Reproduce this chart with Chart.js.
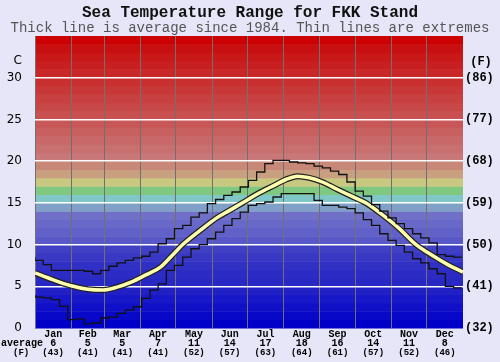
<!DOCTYPE html>
<html>
<head>
<meta charset="utf-8">
<script src="https://cdn.jsdelivr.net/npm/chart.js@4.4.1/dist/chart.umd.min.js"></script>
<style>
  html, body { margin: 0; padding: 0; background: #e6e6f8; }
  #wrap { width: 500px; height: 362px; }
</style>
</head>
<body>
<div id="wrap"><canvas id="sea-chart" width="500" height="362"></canvas></div>
<script>
// month labels and monthly averages (C and F) shown under the plot
const monthNames = ["Jan", "Feb", "Mar", "Apr", "May", "Jun", "Jul", "Aug", "Sep", "Oct", "Nov", "Dec"];
const monthDays = [31, 28, 31, 30, 31, 30, 31, 31, 30, 31, 30, 31];
const avgC = [6, 5, 5, 7, 11, 14, 17, 18, 16, 14, 11, 8];
const avgF = [43, 41, 41, 41, 52, 57, 63, 64, 61, 57, 52, 46];

// extremes, read once a week (day of year)
const stepDays = [0, 7, 14, 21, 28, 35, 42, 49, 56, 63, 70, 77, 84, 91, 98, 105, 112, 119, 126, 133,
  140, 147, 154, 161, 168, 175, 182, 189, 196, 203, 210, 217, 224, 231, 238, 245, 252, 259, 266, 273,
  280, 287, 294, 301, 308, 315, 322, 329, 336, 343, 350, 357, 364];
const maxTemps = [8.5, 8.1, 7.6, 6.9, 6.9, 6.9, 6.9, 6.8, 6.5, 6.9, 7.4, 7.8, 8.1, 8.4, 8.6, 9.1, 10.1, 10.7, 11.9, 12.3,
  13.3, 13.8, 14.9, 15.4, 15.9, 16.3, 16.9, 17.7, 18.7, 19.7, 20.1, 20.1, 19.9, 19.8, 19.7, 19.4, 19.2, 18.8, 18.4, 17.5,
  16.4, 15.8, 14.8, 14.0, 13.2, 12.5, 11.9, 11.3, 10.8, 10.2, 8.8, 8.6, 8.5];
const minTemps = [3.95, 3.7, 3.6, 3.4, 2.6, 1.0, 1.1, 0.5, 0.6, 1.2, 1.3, 1.75, 2.15, 2.55, 3.55, 4.55, 5.3, 6.9, 7.5, 8.5,
  9.5, 10.0, 10.7, 11.5, 12.3, 13.1, 13.9, 14.7, 14.9, 15.1, 15.7, 16.1, 16.1, 16.1, 16.1, 15.3, 14.7, 14.7, 14.5, 14.3,
  13.8, 13.0, 12.3, 11.3, 10.5, 9.9, 9.1, 8.3, 7.8, 7.1, 6.5, 5.0, 4.8];

// long-term average curve
const avgDays = [0, 15, 30, 45, 58, 70, 82, 95, 107, 119, 126, 140, 155, 166, 177, 190, 204, 214, 224, 234,
  245, 258, 270, 282, 295, 310, 325, 340, 352, 365];
const avgTemps = [6.6, 5.8, 5.1, 4.65, 4.55, 4.9, 5.5, 6.4, 7.3, 9.0, 10.0, 11.6, 13.2, 14.1, 15.0, 16.1, 17.1, 17.8, 18.2, 18.0,
  17.5, 16.6, 15.8, 15.0, 13.7, 12.0, 10.0, 8.6, 7.6, 6.7];

// one colour per degree band, 0-1 up to 34-35
const bandColors = ["#0000c8", "#0808c8", "#1010c8", "#1818c8", "#2020c4", "#2828c4", "#2c2cc4", "#3030c4", "#3838c4", "#4040c4",
  "#5858c8", "#6060c8", "#6868c8", "#7070c8", "#80a0c8", "#80c8c8", "#80c880", "#c8c880", "#c8a080", "#c88878",
  "#c87878", "#c87070", "#c86868", "#c86060", "#c85858", "#c85050", "#c84848", "#c84040", "#c83838", "#c83030",
  "#c82828", "#c82020", "#c81818", "#c81010", "#cc0000"];

const monthStarts = [];
const monthMids = [];
let d = 0;
monthDays.forEach(n => { monthStarts.push(d); monthMids.push(d + n / 2); d += n; });

const toPoints = (xs, ys) => xs.map((x, i) => ({ x: x, y: ys[i] }));

// ✅ colour bands behind the plot
const bandsPlugin = {
    id: "bands",
    beforeDraw(chart) {
        const { ctx, chartArea, scales } = chart;
        ctx.save();
        bandColors.forEach((c, i) => {
            const top = scales.y.getPixelForValue(i + 1);
            const bot = scales.y.getPixelForValue(i);
            ctx.fillStyle = c;
            ctx.fillRect(chartArea.left, top, chartArea.right - chartArea.left, bot - top + 0.5);
        });
        ctx.restore();
    }
};

// ✅ text rows under the plot and unit labels
const labelsPlugin = {
    id: "labels",
    afterDraw(chart) {
        const { ctx, scales } = chart;
        const x = scales.x;
        ctx.save();
        ctx.fillStyle = "#000";
        ctx.textBaseline = "middle";
        ctx.textAlign = "center";
        monthMids.forEach((m, i) => {
            const px = x.getPixelForValue(m);
            ctx.font = "bold 10px 'Liberation Mono'";
            ctx.fillText(monthNames[i], px, 334);
            ctx.fillText(String(avgC[i]), px, 343);
            ctx.font = "bold 9px 'Liberation Mono'";
            ctx.fillText("(" + avgF[i] + ")", px, 352.5);
        });
        ctx.textAlign = "left";
        ctx.font = "bold 10px 'Liberation Mono'";
        ctx.fillText("average", 1, 343);
        ctx.font = "bold 9px 'Liberation Mono'";
        ctx.fillText("(F)", 13, 352.5);
        ctx.textAlign = "right";
        ctx.font = "12px 'DejaVu Sans'";
        ctx.fillText("C", 22, 61);
        ctx.textAlign = "center";
        ctx.font = "bold 12px 'Liberation Mono'";
        ctx.fillText("(F)", 481, 62);
        ctx.restore();
    }
};

const seaChart = new Chart(document.getElementById("sea-chart"), {
    type: "line",
    data: {
        datasets: [
            {
                label: "Max",
                data: toPoints(stepDays, maxTemps),
                stepped: "after",
                borderColor: "#111",
                borderWidth: 1.3,
                pointRadius: 0,
                fill: false
            },
            {
                label: "Min",
                data: toPoints(stepDays, minTemps),
                stepped: "after",
                borderColor: "#111",
                borderWidth: 1.3,
                pointRadius: 0,
                fill: false
            },
            {
                label: "Average",
                data: toPoints(avgDays, avgTemps),
                cubicInterpolationMode: "monotone",
                borderColor: "#ffffb0",
                borderWidth: 3.5,
                pointRadius: 0,
                fill: false,
                order: 0
            },
            {
                label: "Average outline",
                data: toPoints(avgDays, avgTemps),
                cubicInterpolationMode: "monotone",
                borderColor: "#222",
                borderWidth: 6,
                pointRadius: 0,
                fill: false,
                order: 1
            }
        ]
    },
    options: {
        responsive: false,
        animation: false,
        devicePixelRatio: 1,
        layout: { padding: 0 },
        plugins: {
            legend: { display: false },
            tooltip: { enabled: false },
            title: {
                display: true,
                text: "Sea Temperature Range for FKK Stand",
                color: "#111",
                font: { family: "'Liberation Mono'", size: 16, weight: "bold", lineHeight: 1 },
                padding: { top: 5, bottom: 0 }
            },
            subtitle: {
                display: true,
                text: "Thick line is average since 1984. Thin lines are extremes",
                color: "#555",
                font: { family: "'Liberation Mono'", size: 14, lineHeight: 1 },
                padding: { top: 0, bottom: 1 }
            }
        },
        scales: {
            x: {
                type: "linear",
                min: 0,
                max: 365,
                ticks: { display: false },
                grid: { display: false },
                border: { display: false },
                afterFit(s) { s.height = 34; }
            },
            xm: {
                type: "linear",
                position: "bottom",
                min: 0,
                max: 365,
                ticks: { display: false },
                grid: { color: "#707070", lineWidth: 1, drawTicks: false },
                border: { display: false },
                afterBuildTicks(s) { s.ticks = monthStarts.map(v => ({ value: v })); },
                afterFit(s) { s.height = 0; }
            },
            y: {
                min: 0,
                max: 35,
                ticks: {
                    stepSize: 5,
                    padding: 13,
                    color: "#000",
                    font: { family: "'DejaVu Sans'", size: 12 },
                    callback: v => (v === 35 ? null : v)
                },
                grid: {
                    drawTicks: false,
                    lineWidth: 1.5,
                    color: c => (c.tick && c.tick.value > 0 && c.tick.value < 35 ? "#ffffff" : "rgba(0,0,0,0)")
                },
                border: { display: false },
                afterFit(s) { s.width = 35; }
            },
            yf: {
                position: "right",
                min: 0,
                max: 35,
                ticks: {
                    stepSize: 5,
                    padding: 2,
                    color: "#000",
                    font: { family: "'Liberation Mono'", size: 12, weight: "bold" },
                    callback: v => (v === 35 ? null : "(" + Math.round(v * 9 / 5 + 32) + ")")
                },
                grid: { display: false, drawTicks: false },
                border: { display: false },
                afterFit(s) { s.width = 37; }
            }
        }
    },
    plugins: [bandsPlugin, labelsPlugin]
});
</script>
</body>
</html>
